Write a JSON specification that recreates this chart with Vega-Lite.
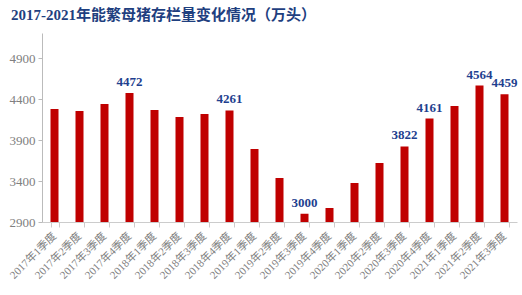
{
  "$schema": "https://vega.github.io/schema/vega-lite/v6.json",
  "width": 475,
  "height": 189,
  "autosize": {"type": "none"},
  "padding": {"left": 42, "top": 33, "right": 5, "bottom": 73},
  "background": "white",
  "title": {
    "text": "2017-2021年能繁母猪存栏量变化情况（万头）",
    "anchor": "start",
    "frame": "group",
    "dx": -31,
    "offset": 10,
    "font": "Liberation Serif, Noto Sans CJK SC",
    "fontSize": 15,
    "fontWeight": "bold",
    "color": "#1F3F7F"
  },
  "data": {
    "values": [
      {"q": "2017年1季度", "v": 4278, "lab": ""},
      {"q": "2017年2季度", "v": 4254, "lab": ""},
      {"q": "2017年3季度", "v": 4339, "lab": ""},
      {"q": "2017年4季度", "v": 4472, "lab": "4472"},
      {"q": "2018年1季度", "v": 4266, "lab": ""},
      {"q": "2018年2季度", "v": 4180, "lab": ""},
      {"q": "2018年3季度", "v": 4217, "lab": ""},
      {"q": "2018年4季度", "v": 4261, "lab": "4261"},
      {"q": "2019年1季度", "v": 3790, "lab": ""},
      {"q": "2019年2季度", "v": 3437, "lab": ""},
      {"q": "2019年3季度", "v": 3000, "lab": "3000"},
      {"q": "2019年4季度", "v": 3071, "lab": ""},
      {"q": "2020年1季度", "v": 3376, "lab": ""},
      {"q": "2020年2季度", "v": 3620, "lab": ""},
      {"q": "2020年3季度", "v": 3822, "lab": "3822"},
      {"q": "2020年4季度", "v": 4161, "lab": "4161"},
      {"q": "2021年1季度", "v": 4315, "lab": ""},
      {"q": "2021年2季度", "v": 4564, "lab": "4564"},
      {"q": "2021年3季度", "v": 4459, "lab": "4459"}
    ]
  },
  "encoding": {
    "x": {
      "field": "q",
      "type": "nominal",
      "sort": null,
      "title": null,
      "scale": {"paddingInner": 0.68, "paddingOuter": 0.34},
      "axis": {
        "labelAngle": -45,
        "labelAlign": "right",
        "labelBaseline": "middle",
        "labelFont": "Liberation Serif, Noto Sans CJK SC",
        "labelFontSize": 11,
        "labelColor": "#808080",
        "tickBand": "extent",
        "tickColor": "#cccccc",
        "tickSize": 5,
        "domainColor": "#cccccc",
        "labelPadding": 7
      }
    },
    "y": {
      "field": "v",
      "type": "quantitative",
      "title": null,
      "scale": {"domain": [2900, 5205], "nice": false, "zero": false},
      "axis": {
        "values": [2900, 3400, 3900, 4400, 4900],
        "format": "d",
        "grid": false,
        "labelFont": "Liberation Serif",
        "labelFontSize": 13,
        "labelColor": "#808080",
        "tickColor": "#bbbbbb",
        "tickSize": 4,
        "domainColor": "#bbbbbb",
        "labelPadding": 3
      }
    }
  },
  "layer": [
    {"mark": {"type": "bar", "color": "#C00000", "clip": true}},
    {
      "mark": {
        "type": "text",
        "dy": -11,
        "font": "Liberation Serif",
        "fontSize": 13,
        "fontWeight": "bold",
        "color": "#1F3F8F"
      },
      "encoding": {"text": {"field": "lab"}}
    }
  ],
  "config": {"view": {"stroke": null}}
}
